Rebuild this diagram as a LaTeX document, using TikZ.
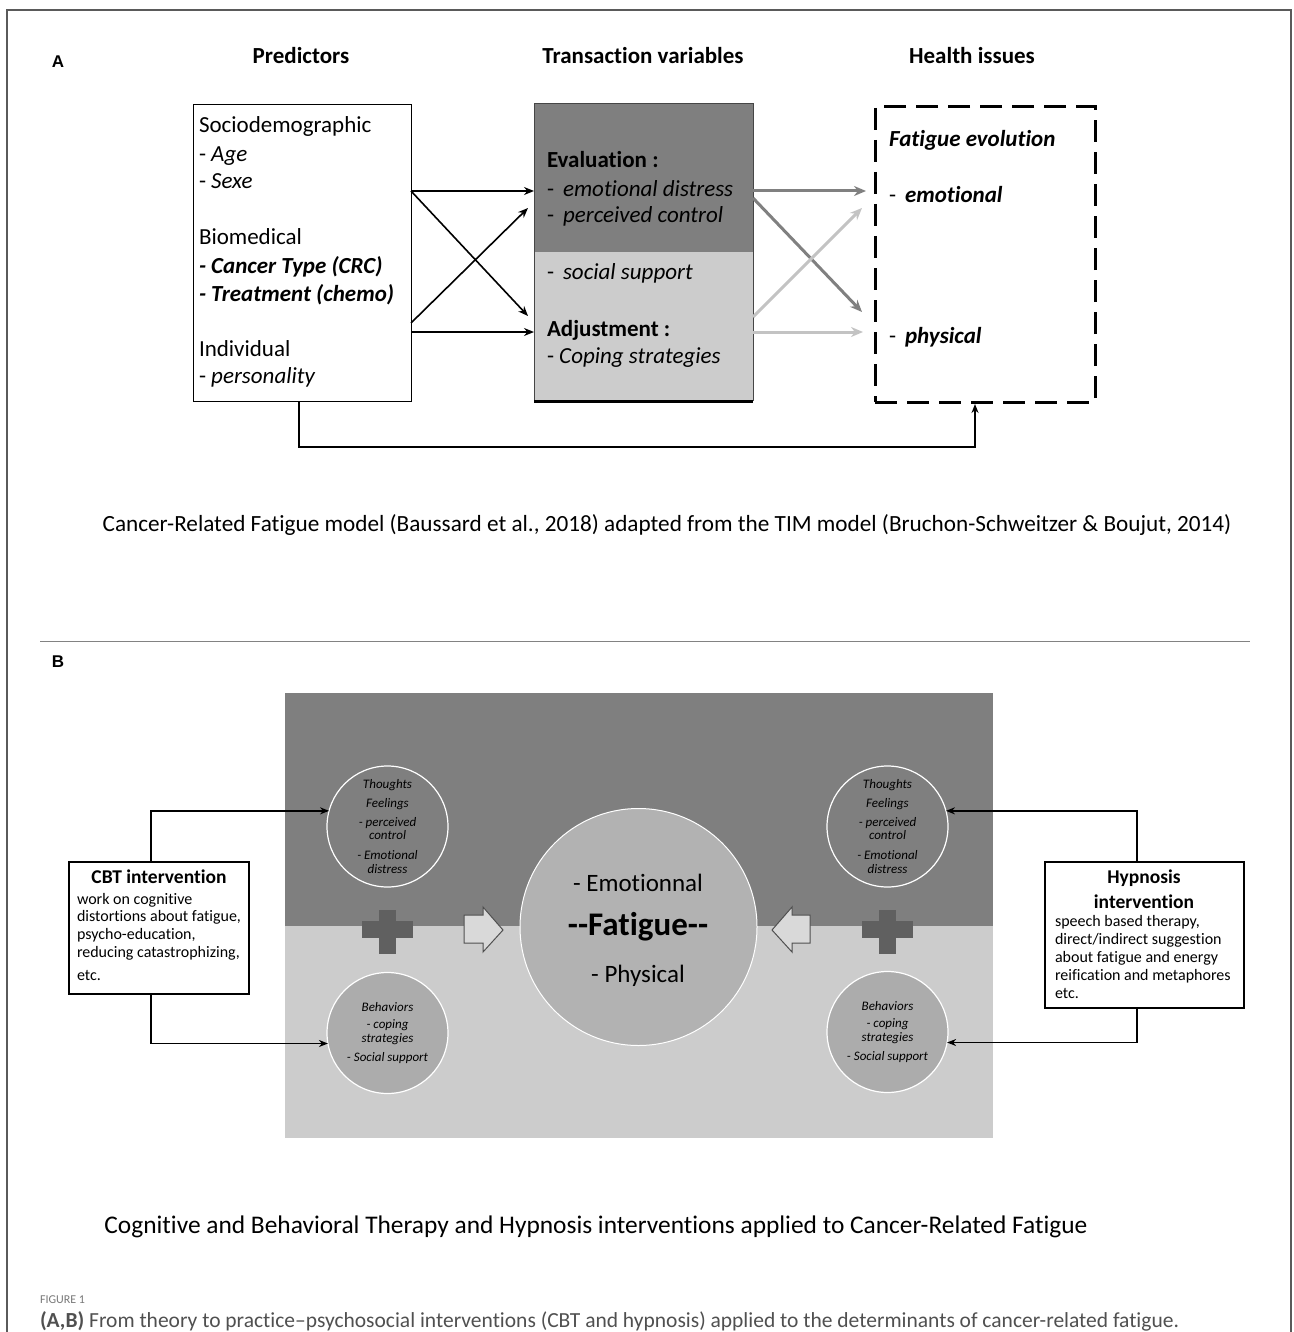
\documentclass[tikz,border=0pt]{standalone}
\usepackage{fontspec}
\setmainfont{Carlito}[Ligatures={NoCommon}]
\newfontfamily\arialf{Liberation Sans}
\usetikzlibrary{arrows.meta,calc}
\newcommand{\fs}[2]{\fontsize{#1}{#2}\selectfont}
\definecolor{darkA}{RGB}{127,127,127}
\definecolor{lightA}{RGB}{204,204,204}
\definecolor{boxedge}{RGB}{70,70,70}
\definecolor{arrdark}{RGB}{128,128,128}
\definecolor{arrlight}{RGB}{195,195,195}
\definecolor{darkB}{RGB}{127,127,127}
\definecolor{lightB}{RGB}{204,204,204}
\definecolor{midB}{RGB}{178,178,178}
\definecolor{circBot}{RGB}{172,172,172}
\definecolor{plusc}{RGB}{96,96,96}
\definecolor{blockfill}{RGB}{217,217,217}
\definecolor{blockedge}{RGB}{80,80,80}
\definecolor{framec}{RGB}{90,90,90}
\definecolor{dividerc}{RGB}{130,130,130}
\definecolor{figgray}{RGB}{120,120,120}
\definecolor{capgray}{RGB}{80,80,80}
\begin{document}
\begin{tikzpicture}[x=1pt,y=-1pt,
  every node/.style={inner sep=0pt, outer sep=0pt},
  lefttxt/.style={anchor=base west, font=\fs{23}{28}},
  midtxt/.style={anchor=base west, font=\fs{23}{28}},
  hdr/.style={anchor=base, font=\fs{23}{27}\bfseries},
  paneltag/.style={anchor=base, font=\arialf\fs{17}{20}\bfseries},
  blackarrow/.style={line width=1.6pt, -{Stealth[length=10pt,width=8pt]}},
  grayarrow/.style={line width=3pt, -{Stealth[length=12pt,width=10pt]}},
  conn/.style={line width=1.5pt, -{Stealth[length=9pt,width=7pt]}},
  circ/.style={circle, draw=white, line width=1.2pt, minimum size=121, align=center, font=\fs{13}{13.5}\itshape},
  bodytxt/.style={anchor=base west, font=\fs{16}{18}},
  ttltxt/.style={anchor=base, font=\fs{19.5}{23}\bfseries},
  blockarr/.style={fill=blockfill, draw=blockedge, line width=1pt, line join=miter}
]
\useasboundingbox (0,0) rectangle (1293,1332);
\fill[white] (0,0) rectangle (1293,1332);
% outer frame
\draw[framec, line width=1.5pt] (7,1332) -- (7,10) -- (1291,10) -- (1291,1332);

% ===== Panel A =====
\node[paneltag] (lA) at (58,68) {A};
\node[hdr] (h1) at (301,64) {Predictors};
\node[hdr] (h2) at (643,64) {Transaction variables};
\node[hdr] (h3) at (972,64) {Health issues};

\node[draw, line width=1pt, minimum width=218, minimum height=296, anchor=north west] (pred) at (193,105) {};
\node[lefttxt] (p1) at (199,133) {Sociodemographic};
\node[lefttxt] (p2) at (199,162) {- \textit{Age}};
\node[lefttxt] (p3) at (199,189) {- \textit{Sexe}};
\node[lefttxt] (p4) at (199,244) {Biomedical};
\node[lefttxt] (p5) at (199,273) {\bfseries\itshape - Cancer Type (CRC)};
\node[lefttxt] (p6) at (199,301) {\bfseries\itshape - Treatment (chemo)};
\node[lefttxt] (p7) at (199,356) {Individual};
\node[lefttxt] (p8) at (199,383) {- \textit{personality}};

\node[fill=lightA, minimum width=219, minimum height=296, anchor=north west] (trans) at (534,104) {};
\fill[darkA] (trans.north west) rectangle ([yshift=-148]trans.north east);
\draw[boxedge, line width=1pt] (trans.north west) rectangle (trans.south east);
\draw[black, line width=3pt] ([yshift=-1]trans.south west) -- ([yshift=-1]trans.south east);
\node[midtxt, font=\fs{23}{28}\bfseries] (t1) at (547,168) {Evaluation :};
\node[midtxt] (t2) at (547,197) {-\hspace{9pt}\textit{emotional distress}};
\node[midtxt] (t3) at (547,223) {-\hspace{9pt}\textit{perceived control}};
\node[midtxt] (t4) at (547,279) {-\hspace{9pt}\textit{social support}};
\node[midtxt, font=\fs{23}{28}\bfseries] (t5) at (547,336) {Adjustment :};
\node[midtxt] (t6) at (547,363) {- \textit{Coping strategies}};

\node[draw, line width=3pt, dash pattern=on 22pt off 10pt, minimum width=220, minimum height=295, anchor=north west] (health) at (875,107) {};
\node[anchor=base west, font=\fs{23}{28}\bfseries\itshape] (f1) at (889,147) {Fatigue evolution};
\node[anchor=base west, font=\fs{23}{28}] (f2) at (889,203) {-\hspace{9pt}\textbf{\textit{emotional}}};
\node[anchor=base west, font=\fs{23}{28}] (f3) at (889,343) {-\hspace{9pt}\textbf{\textit{physical}}};

% black arrows predictors -> transaction
\draw[blackarrow] ([yshift=-86]pred.north east) -- ([yshift=-87]trans.north west);
\draw[blackarrow] ([yshift=-86]pred.north east) -- ([xshift=-6,yshift=-212]trans.north west);
\draw[blackarrow] ([yshift=-218]pred.north east) -- ([xshift=-6,yshift=-104]trans.north west);
\draw[blackarrow] ([yshift=-227]pred.north east) -- ([yshift=-228]trans.north west);
% gray arrows transaction -> health
\draw[grayarrow, draw=arrdark] ([yshift=-87]trans.north east) -- ([xshift=-9,yshift=-84]health.north west);
\draw[grayarrow, draw=arrdark] ([yshift=-94]trans.north east) -- ([xshift=-13,yshift=-205]health.north west);
\draw[grayarrow, draw=arrlight] ([yshift=-213]trans.north east) -- ([xshift=-13,yshift=-101]health.north west);
\draw[grayarrow, draw=arrlight] ([yshift=-228]trans.north east) -- ([xshift=-12,yshift=-225]health.north west);
% bottom connector
\draw[conn] ([xshift=-3]pred.south) -- ++(0,46) -| ([xshift=-10,yshift=-2]health.south);

\node[anchor=base, font=\fs{23.2}{27}] (capA) at (667,531) {Cancer-Related Fatigue model (Baussard et al., 2018) adapted from the TIM model (Bruchon-Schweitzer \& Boujut, 2014)};

\draw[dividerc, line width=1pt] (40,641) -- (1250,641);

% ===== Panel B =====
\node[paneltag] (lB) at (58,667) {B};
\node[fill=darkB, minimum width=708, minimum height=233, anchor=north west] (bgtop) at (285,693) {};
\node[fill=lightB, minimum width=708, minimum height=212, anchor=north west] (bgbot) at (285,926) {};

\node[circle, fill=midB, draw=white, line width=1pt, minimum size=237] (fat) at (638.5,927) {};
\node[anchor=base, font=\fs{25}{30}] (fe) at (638,891) {- Emotionnal};
\node[anchor=base, font=\fs{33}{38}\bfseries] (ff) at (638,935) {-{}-Fatigue-{}-};
\node[anchor=base, font=\fs{25}{30}] (fp) at (638,982) {- Physical};

\node[circ, fill=darkB] (tl) at (387.5,826.5) {Thoughts\\[5.5pt]Feelings\\[5.5pt]- perceived\\control\\[6.5pt]- Emotional\\distress};
\node[circ, fill=circBot] (bl) at (387.5,1033) {Behaviors\\[3pt]- coping\\[1pt]strategies\\[5pt]- Social support};
\node[circ, fill=darkB] (tr) at (887.5,826.5) {Thoughts\\[5.5pt]Feelings\\[5.5pt]- perceived\\control\\[6.5pt]- Emotional\\distress};
\node[circ, fill=circBot] (br) at (887.5,1032) {Behaviors\\[3pt]- coping\\[1pt]strategies\\[5pt]- Social support};

% plus signs
\fill[plusc] (379,910) rectangle (396,954);
\fill[plusc] (362,921) rectangle (413,938);
\fill[plusc] (879,910) rectangle (896,954);
\fill[plusc] (862,921) rectangle (913,938);

% block arrows
\filldraw[blockarr] (464,915) -- (483,915) -- (483,907) -- (503,930) -- (483,952) -- (483,943) -- (464,943) -- cycle;
\filldraw[blockarr] (810,915) -- (792,915) -- (792,907) -- (772,930) -- (792,952) -- (792,943) -- (810,943) -- cycle;

% CBT box
\node[draw, line width=1.2pt, fill=white, minimum width=180, minimum height=132, anchor=north west] (cbt) at (69,862) {};
\node[ttltxt] (c0) at (159,883) {CBT intervention};
\node[bodytxt] (c1) at (77,904) {work on cognitive};
\node[bodytxt] (c2) at (77,921) {distortions about fatigue,};
\node[bodytxt] (c3) at (77,939) {psycho-education,};
\node[bodytxt] (c4) at (77,957) {reducing catastrophizing,};
\node[bodytxt] (c5) at (77,980) {etc.};

% Hypnosis box
\node[draw, line width=1.2pt, fill=white, minimum width=199, minimum height=146, anchor=north west] (hyp) at (1045,862) {};
\node[ttltxt] (y0) at (1144,883) {Hypnosis};
\node[ttltxt] (y1) at (1144,908) {intervention};
\node[bodytxt] (y2) at (1055,926) {speech based therapy,};
\node[bodytxt] (y3) at (1055,944) {direct/indirect suggestion};
\node[bodytxt] (y4) at (1055,962) {about fatigue and energy};
\node[bodytxt] (y5) at (1055,980) {reification and metaphores};
\node[bodytxt] (y6) at (1055,998) {etc.};

% connectors
\draw[conn] ([xshift=-8]cbt.north) |- (tl.165);
\draw[conn] ([xshift=-8]cbt.south) |- (bl.190);
\draw[conn] ([xshift=-7.5]hyp.north) |- (tr.15);
\draw[conn] ([xshift=-7.5]hyp.south) |- (br.350);

\node[anchor=base, font=\fs{25.4}{30}] (capB) at (596,1233) {Cognitive and Behavioral Therapy and Hypnosis interventions applied to Cancer-Related Fatigue};

\node[anchor=base west, font=\fs{12}{14}, text=figgray] (fig) at (40,1303) {FIGURE 1};
\node[anchor=base west, font=\fs{21.5}{24}, text=capgray] (cap) at (40,1327) {\textbf{(A,B)} From theory to practice–psychosocial interventions (CBT and hypnosis) applied to the determinants of cancer-related fatigue.};
\end{tikzpicture}
\end{document}
